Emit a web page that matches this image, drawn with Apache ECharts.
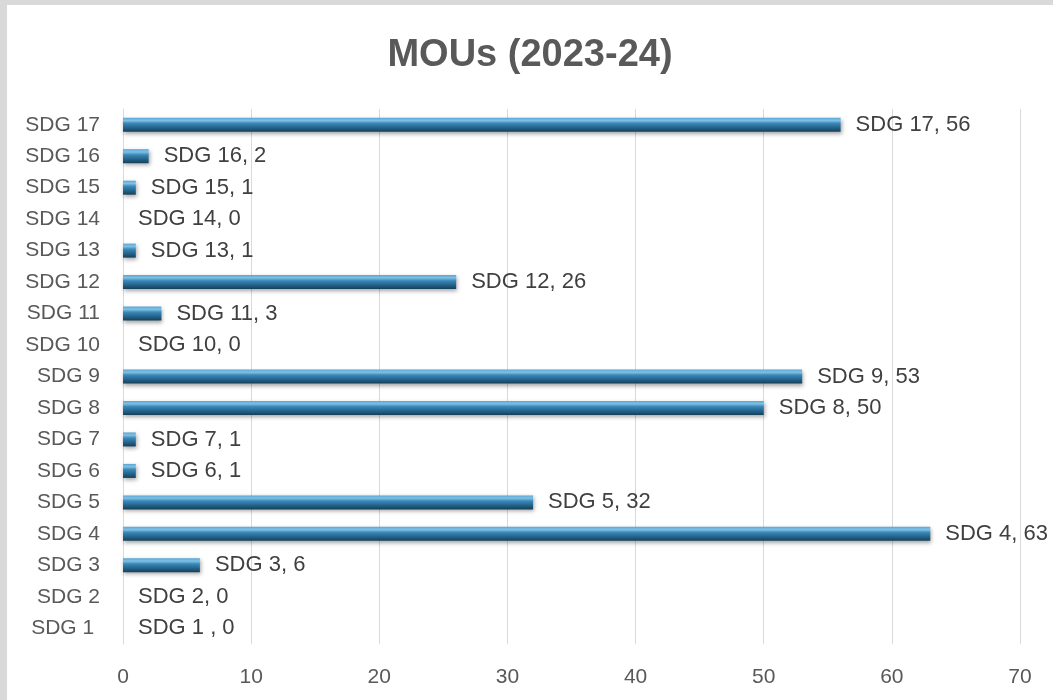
<!DOCTYPE html>
<html>
<head>
<meta charset="utf-8">
<script src="https://cdn.jsdelivr.net/npm/echarts@6/dist/echarts.min.js"></script>
<style>
  html, body { margin: 0; padding: 0; background: #d9d9d9; width: 1053px; height: 700px; overflow: hidden; }
  #chart { position: absolute; left: 7px; top: 5px; width: 1046px; height: 695px; background: #ffffff; }
</style>
</head>
<body>
<div id="chart"></div>
<script>
const titleText = 'MOUs (2023-24)';
const categories = ['SDG 1 ', 'SDG 2', 'SDG 3', 'SDG 4', 'SDG 5', 'SDG 6', 'SDG 7', 'SDG 8', 'SDG 9',
  'SDG 10', 'SDG 11', 'SDG 12', 'SDG 13', 'SDG 14', 'SDG 15', 'SDG 16', 'SDG 17'];
const values = [0, 0, 6, 63, 32, 1, 1, 50, 53, 0, 3, 26, 1, 0, 1, 2, 56];
const xTicks = [0, 10, 20, 30, 40, 50, 60, 70];

const FONT = 'Liberation Sans, Arial, sans-serif';
const chart = echarts.init(document.getElementById('chart'), null, { renderer: 'canvas' });
chart.setOption({
  backgroundColor: '#ffffff',
  animation: false,
  title: {
    text: titleText,
    left: 'center',
    top: 27,
    textStyle: { fontFamily: FONT, fontSize: 38, fontWeight: 'bold', color: '#595959', lineHeight: 38 }
  },
  grid: { left: 116, right: 33, top: 104, bottom: 56, containLabel: false },
  xAxis: {
    type: 'value',
    min: xTicks[0],
    max: xTicks[xTicks.length - 1],
    interval: xTicks[1] - xTicks[0],
    axisLine: { show: false },
    axisTick: { show: false },
    axisLabel: { fontFamily: FONT, fontSize: 21, color: '#595959', margin: 23 },
    splitLine: { show: true, lineStyle: { color: '#d9d9d9', width: 1 } }
  },
  yAxis: {
    type: 'category',
    data: categories,
    axisLine: { show: true, lineStyle: { color: '#d9d9d9', width: 1 } },
    axisTick: { show: false },
    axisLabel: { fontFamily: FONT, fontSize: 21, color: '#595959', margin: 23 }
  },
  series: [{
    type: 'bar',
    data: values,
    barWidth: 14,
    itemStyle: {
      color: new echarts.graphic.LinearGradient(0, 0, 0, 1, [
        { offset: 0, color: '#5aa6d4' },
        { offset: 0.2, color: '#7fc1e6' },
        { offset: 0.4, color: '#3b88b8' },
        { offset: 0.7, color: '#25648c' },
        { offset: 1, color: '#163f58' }
      ]),
      shadowColor: 'rgba(0,0,0,0.35)',
      shadowBlur: 4,
      shadowOffsetX: 1,
      shadowOffsetY: 2
    },
    label: {
      show: true,
      position: 'right',
      distance: 15,
      formatter: p => p.name + ', ' + p.value,
      fontFamily: FONT,
      fontSize: 22,
      color: '#404040'
    }
  }]
});
</script>
</body>
</html>
